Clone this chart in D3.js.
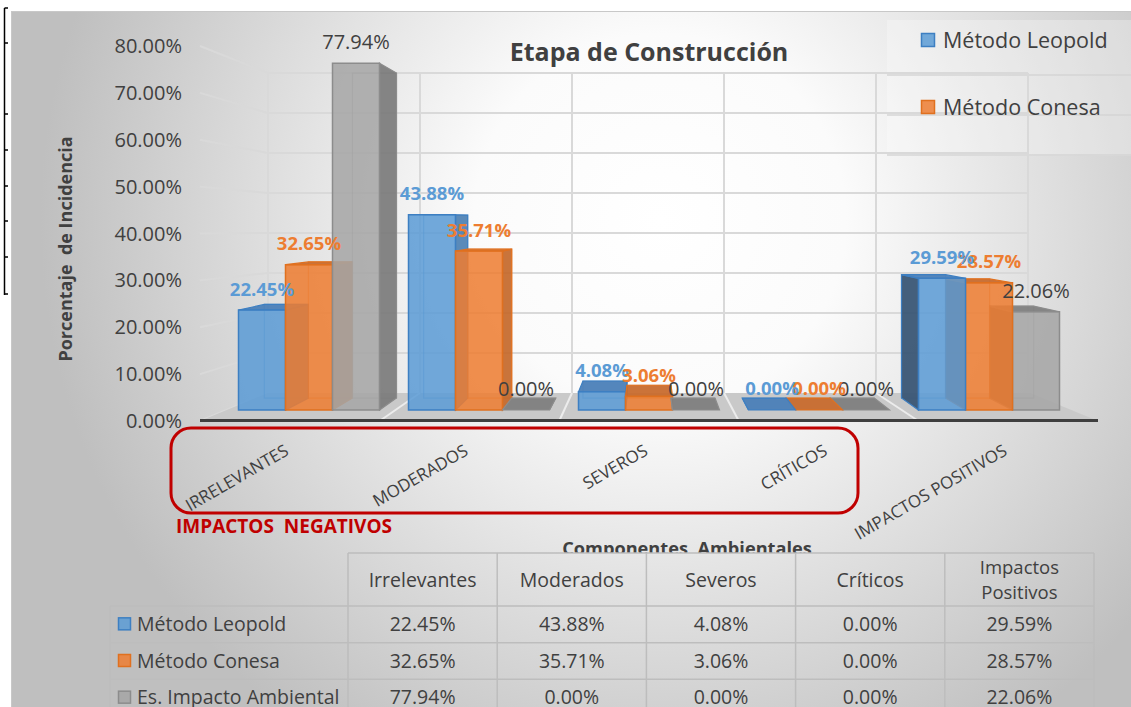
<!DOCTYPE html>
<html><head><meta charset="utf-8">
<script src="https://cdn.jsdelivr.net/npm/d3@7"></script>
<style>body{margin:0;background:#fff} svg{display:block} text{font-family:'Open Sans',sans-serif}</style>
</head><body><svg id="c" width="1131" height="707"></svg>
<script>
// ---------- DATA ----------
const categories = ["IRRELEVANTES","MODERADOS","SEVEROS","CRÍTICOS","IMPACTOS POSITIVOS"];
const tableHeaders = ["Irrelevantes","Moderados","Severos","Críticos","Impactos Positivos"];
const seriesNames = ["Método Leopold","Método Conesa","Es. Impacto Ambiental"];
const leopold = [22.45, 43.88, 4.08, 0.00, 29.59];
const conesa  = [32.65, 35.71, 3.06, 0.00, 28.57];
const eia     = [77.94, 0.00, 0.00, 0.00, 22.06];
const yTicks  = [0,10,20,30,40,50,60,70,80];
const legendSeries = ["Método Leopold","Método Conesa"];
const chartTitle = "Etapa de Construcción";
const yTitle = "Porcentaje  de Incidencia";
const xTitle = "Componentes  Ambientales";
const groupNote = "IMPACTOS  NEGATIVOS";

const seriesValues = [leopold, conesa, eia];
const fmt = v => v.toFixed(2) + "%";

// ---------- STYLE ----------
const pal = [
  {fill:"#5b9bd5", stroke:"#3d7fc2", side:"#4c80b3", left:"#3a5675", top:"#4b80b8", label:"#5b9bd5", bold:true},
  {fill:"#ed7d31", stroke:"#e0701f", side:"#c4682a", left:"#a85520", top:"#c86b2e", label:"#ed7d31", bold:true},
  {fill:"#a5a5a5", stroke:"#8c8c8c", side:"#7b7b7b", left:"#6e6e6e", top:"#7f7f7f", label:"#404040", bold:false}
];
const textCol = "#404040";

const svg = d3.select("#c");
const defs = svg.append("defs");
const rg = defs.append("radialGradient").attr("id","bg").attr("gradientUnits","userSpaceOnUse")
  .attr("cx",660).attr("cy",220).attr("r",620);
rg.append("stop").attr("offset",0).attr("stop-color","#ffffff");
rg.append("stop").attr("offset",0.3).attr("stop-color","#fbfbfb");
rg.append("stop").attr("offset",1).attr("stop-color","#bfbfbf");
defs.append("clipPath").attr("id","clipTop").append("rect").attr("x",0).attr("y",0).attr("width",1131).attr("height",553);

// background
svg.append("rect").attr("width",1131).attr("height",707).attr("fill","#fff");
svg.append("rect").attr("x",11.5).attr("y",11.5).attr("width",1125).attr("height",700)
  .attr("fill","url(#bg)").attr("stroke","#c8c8c8");

// black bracket at left
const br = svg.append("g").attr("stroke","#000").attr("stroke-width",1.5);
br.append("line").attr("x1",4.5).attr("x2",4.5).attr("y1",8).attr("y2",295);
[8,43,114,150,186,221,257,294].forEach(y=>br.append("line").attr("x1",4.5).attr("x2",8).attr("y1",y).attr("y2",y));

// ---------- SCALES ----------
const yLabel = d3.scaleLinear().domain([0,80]).range([421,46]);
const yBack  = d3.scaleLinear().domain([0,80]).range([393,73]);
const yFront = d3.scaleLinear().domain([0,80]).range([410,54]);
const xFront = d3.scaleBand().domain(categories).range([224,1074]);
const xBack  = d3.scaleBand().domain(categories).range([268,1028]);
const xFloor = d3.scaleBand().domain(categories).range([200,1098]);
const xSer   = d3.scaleBand().domain(seriesNames).range([0,141]);
const serOff = (xFront.bandwidth()-141)/2;
const VX = 649, VY = 220, K = 0.063;
const proj = p => [p[0] + K*(VX-p[0]), p[1] + K*(VY-p[1])];

// legend background box
svg.append("rect").attr("x",887).attr("y",20).attr("width",244).attr("height",136)
  .attr("fill","#ffffff").attr("opacity",0.28);
[75,115,155].forEach(y=>svg.append("line").attr("x1",887).attr("x2",1131).attr("y1",y).attr("y2",y)
  .attr("stroke","#d4d4d4").attr("stroke-width",1.5));

// ---------- WALLS ----------
const grid = svg.append("g").attr("stroke","#d9d9d9").attr("stroke-width",2).attr("fill","none");
yTicks.forEach(t=>{
  grid.append("line").attr("x1",200).attr("y1",yLabel(t)).attr("x2",268).attr("y2",yBack(t));
  if(t>0) grid.append("line").attr("x1",268).attr("y1",yBack(t)).attr("x2",1028).attr("y2",yBack(t));
});
const wallX = categories.map(c=>xBack(c)).concat([xBack.range()[1]]);
wallX.forEach(x=>grid.append("line").attr("x1",x).attr("x2",x).attr("y1",yBack(80)).attr("y2",yBack(0)));

// floor
svg.append("path").attr("d","M200,421L1098,421L1030,393L268,393Z").attr("fill","#c9c9c9");
const floorFront = categories.map(c=>xFloor(c)).concat([xFloor.range()[1]]);
wallX.forEach((x,i)=>{ if(i>0 && i<wallX.length-1)
  svg.append("line").attr("x1",x).attr("y1",393).attr("x2",floorFront[i]).attr("y2",421)
    .attr("stroke","#ececec").attr("stroke-width",2);});
svg.append("line").attr("x1",200).attr("x2",1098).attr("y1",420.5).attr("y2",420.5)
  .attr("stroke","#3f3f3f").attr("stroke-width",3);

// ---------- BARS ----------
const barG = svg.append("g");
const poly = pts => "M" + pts.map(p=>p.join(",")).join("L") + "Z";
const labels = [];
categories.forEach((cat,ci)=>{
  const order = (xFront(cat)+xFront.bandwidth()/2 > VX) ? [2,1,0] : [0,1,2];
  order.forEach(si=>{
    const v = seriesValues[si][ci];
    const c = pal[si];
    const x0 = xFront(cat)+serOff+xSer(seriesNames[si]);
    const x1 = x0 + xSer.bandwidth();
    const yT = yFront(v), yB = yFront(0);
    const fTL=[x0,yT], fTR=[x1,yT], fBR=[x1,yB], fBL=[x0,yB];
    const bTL=proj(fTL), bTR=proj(fTR), bBR=proj(fBR), bBL=proj(fBL);
    const g = barG.append("g");
    g.append("path").attr("d",poly([bTL,bTR,bBR,bBL])).attr("fill","none")
      .attr("stroke",c.stroke).attr("stroke-opacity",0.5).attr("stroke-width",1.2);
    if (x1 < VX) g.append("path").attr("d",poly([fTR,bTR,bBR,fBR])).attr("fill",c.side)
      .attr("fill-opacity",0.92).attr("stroke",c.stroke).attr("stroke-width",1.2);
    if (x0 > VX) g.append("path").attr("d",poly([fTL,bTL,bBL,fBL])).attr("fill",c.left)
      .attr("fill-opacity",0.95).attr("stroke",c.stroke).attr("stroke-width",1.2);
    if (yT > VY) g.append("path").attr("d",poly([fTL,fTR,bTR,bTL])).attr("fill",c.top)
      .attr("fill-opacity",0.95).attr("stroke",c.stroke).attr("stroke-width",1.2);
    if (v>0) g.append("path").attr("d",poly([fTL,fTR,fBR,fBL])).attr("fill",c.fill)
      .attr("fill-opacity",0.86).attr("stroke",c.stroke).attr("stroke-width",1.5);
    labels.push({x:(x0+x1)/2, y:yT-21, t:fmt(v), c});
  });
});
labels.forEach(l=>svg.append("text").attr("x",l.x).attr("y",l.y).attr("dy","0.35em")
  .attr("text-anchor","middle").attr("fill",l.c.label)
  .attr("font-weight",l.c.bold?"bold":"normal").attr("font-size",l.c.bold?18.5:20).text(l.t));

// ---------- Y AXIS ----------
yTicks.forEach(t=>svg.append("text").attr("x",182).attr("y",yLabel(t)).attr("dy","0.35em")
  .attr("text-anchor","end").attr("font-size",20).attr("fill",textCol).text(fmt(t)));
svg.append("text").attr("transform","translate(72,249) rotate(-90)").attr("text-anchor","middle")
  .attr("font-size",18).attr("font-weight","bold").attr("fill",textCol)
  .style("white-space","pre").text(yTitle);

// title
svg.append("text").attr("x",649).attr("y",52).attr("dy","0.35em").attr("text-anchor","middle")
  .attr("font-size",25).attr("font-weight","bold").attr("fill",textCol).text(chartTitle);

// legend
legendSeries.forEach((s,i)=>{
  const y = 40 + i*67;
  svg.append("rect").attr("x",921.5).attr("y",y-6.5).attr("width",13).attr("height",13)
    .attr("fill",pal[i].fill).attr("fill-opacity",0.85).attr("stroke",pal[i].stroke).attr("stroke-width",1.5);
  svg.append("text").attr("x",943).attr("y",y).attr("dy","0.35em").attr("font-size",21.5)
    .attr("fill",textCol).text(s);
});

// ---------- X labels ----------
svg.append("rect").attr("x",171).attr("y",428).attr("width",687).attr("height",85).attr("rx",20)
  .attr("fill","none").attr("stroke","#c00000").attr("stroke-width",3);
categories.forEach(c=>{
  const x = xFloor(c)+xFloor.bandwidth()/2;
  svg.append("text").attr("transform",`translate(${x},454) rotate(-30)`).attr("text-anchor","end")
    .attr("font-size",17).attr("fill",textCol).text(c);
});
svg.append("text").attr("x",176).attr("y",533).attr("font-size",19).attr("font-weight","bold")
  .attr("fill","#c00000").style("white-space","pre").text(groupNote);
svg.append("text").attr("x",687).attr("y",555).attr("text-anchor","middle").attr("clip-path","url(#clipTop)")
  .attr("font-size",18.2).attr("font-weight","bold").attr("fill",textCol).style("white-space","pre").text(xTitle);

// ---------- TABLE ----------
const tCol = d3.scaleBand().domain(tableHeaders).range([348,1094]);
const tRow = d3.scaleBand().domain(seriesNames).range([606,716]);
const tg = svg.append("g");
const lineC = "#bdbdbd";
const tFont = 19.5;
tg.append("line").attr("x1",348).attr("x2",1094).attr("y1",553).attr("y2",553).attr("stroke",lineC).attr("stroke-width",1.5);
tableHeaders.forEach(h=>{
  tg.append("line").attr("x1",tCol(h)).attr("x2",tCol(h)).attr("y1",553).attr("y2",716).attr("stroke",lineC).attr("stroke-width",1.5);
  const cx = tCol(h)+tCol.bandwidth()/2;
  const parts = h==="Impactos Positivos" ? ["Impactos","Positivos"] : [h];
  parts.forEach((p,i)=>tg.append("text").attr("x",cx).attr("y",580 + (i - (parts.length-1)/2)*25).attr("dy","0.35em")
    .attr("text-anchor","middle").attr("font-size",parts.length>1?18.5:tFont).attr("fill",textCol).text(p));
});
tg.append("line").attr("x1",1094).attr("x2",1094).attr("y1",553).attr("y2",716).attr("stroke",lineC).attr("stroke-width",1.5);
tg.append("line").attr("x1",110).attr("x2",110).attr("y1",606).attr("y2",716).attr("stroke",lineC).attr("stroke-width",1.5);
seriesNames.forEach((s,si)=>{
  const y0 = tRow(s);
  tg.append("line").attr("x1",110).attr("x2",1094).attr("y1",y0).attr("y2",y0).attr("stroke",lineC).attr("stroke-width",1.5);
  const cy = y0 + tRow.bandwidth()/2;
  tg.append("rect").attr("x",118.5).attr("y",cy-6.5).attr("width",12).attr("height",12)
    .attr("fill",pal[si].fill).attr("fill-opacity",0.85).attr("stroke",pal[si].stroke).attr("stroke-width",1.5);
  tg.append("text").attr("x",137).attr("y",cy).attr("dy","0.35em").attr("font-size",tFont).attr("fill",textCol).text(s);
  tableHeaders.forEach((h,ci)=>tg.append("text").attr("x",tCol(h)+tCol.bandwidth()/2).attr("y",cy).attr("dy","0.35em")
    .attr("text-anchor","middle").attr("font-size",tFont).attr("fill",textCol).text(fmt(seriesValues[si][ci])));
});
</script></body></html>
